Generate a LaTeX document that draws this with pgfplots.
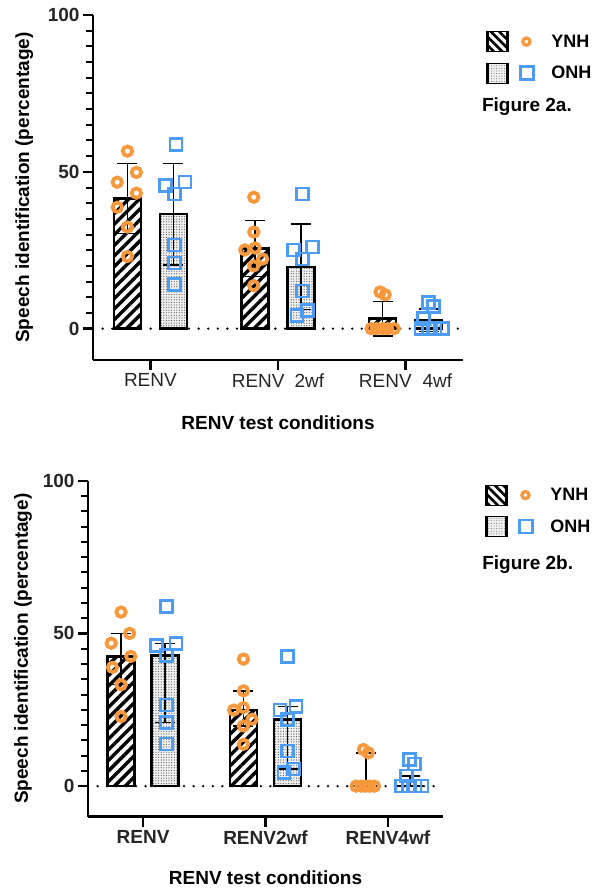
\documentclass[border=0pt]{standalone}
\usepackage{fontspec}
\setmainfont{Liberation Sans}
\usepackage{pgfplots}
\pgfplotsset{compat=1.18}
\usetikzlibrary{patterns,patterns.meta}
\definecolor{ynh}{HTML}{F7983C}
\definecolor{onh}{HTML}{4A9CF5}
\definecolor{tickgray}{HTML}{262626}
\newcommand{\lbl}{\fontsize{19}{22}\selectfont}
\newcommand{\leg}{\fontsize{18}{21}\selectfont}

\pgfplotsset{
 prism/.style={
  scale only axis, clip=false,
  axis x line*=bottom, axis y line*=left,
  axis line style={line width=2.6pt,-},
  ymin=-10, ymax=100, xmin=-0.45, xmax=2.45,
  ytick={0,50,100}, minor y tick num=9,
  xtick={0,1,2},
  tick align=outside,
  major tick length=10pt, minor tick length=7pt,
  tick style={line width=2.4pt,black},
  minor tick style={line width=2pt,black},
  /pgf/number format/assume math mode=true,
  yticklabel style={font=\bfseries\lbl, text=tickgray},
  xlabel style={font=\bfseries\lbl},
  ylabel style={font=\bfseries\lbl},
  legend style={draw=none, fill=none, anchor=north west, font=\bfseries\leg,
    row sep=9pt, nodes={inner sep=1pt}},
  legend cell align=left,
 },
 zeroline/.style={forget plot, black, line width=2.6pt, dash pattern=on 0pt off 9.6pt, line cap=round},
 ynhbar/.style={forget plot, ybar, bar shift=0pt, bar width=27pt, draw=black, line width=2.6pt,
   pattern={Lines[angle=45,distance=7.5pt,line width=3.4pt]}, pattern color=black},
 onhbar/.style={forget plot, ybar, bar shift=0pt, bar width=27pt, draw=black, line width=2.6pt,
   fill=gray!12, postaction={pattern={Dots[distance=2.6pt,radius=0.6pt]}, pattern color=black!65}},
 errs/.style={forget plot, draw=none, mark=none,
   error bars/.cd, y dir=both, y explicit,
   error bar style={draw=black, line width=1.4pt, solid},
   error mark options={draw=black, rotate=90, mark size=10pt, line width=1.4pt}},
 ynhpts/.style={forget plot, only marks, mark=o, mark size=4.7pt, ynh, line width=3.8pt, mark options={line width=3.8pt, solid}},
 onhpts/.style={forget plot, only marks, mark=square, mark size=6pt, onh, line width=2.6pt, mark options={line width=2.6pt, solid}},
 legynh/.style={legend image code/.code={
   \fill[pattern={Lines[angle=-45,distance=6pt,line width=2.6pt]}, pattern color=black] (0pt,-10pt) rectangle (22pt,10pt);
   \draw[black, line width=2.4pt] (1.2pt,-10pt)--(1.2pt,10pt) (20.8pt,-10pt)--(20.8pt,10pt);
   \draw[ynh, line width=3.2pt] (40pt,0pt) circle (3.6pt);
   \path[draw=none, fill=none] (0pt,0pt) rectangle (64pt,0.1pt);}},
 legonh/.style={legend image code/.code={
   \fill[gray!12] (0pt,-10pt) rectangle (22pt,10pt);
   \fill[pattern={Dots[distance=2.6pt,radius=0.5pt]}, pattern color=black!60] (0pt,-10pt) rectangle (22pt,10pt);
   \draw[black, line width=2.4pt] (1.2pt,-10pt)--(1.2pt,10pt) (20.8pt,-10pt)--(20.8pt,10pt);
   \draw[onh, line width=2.4pt] (34pt,-6.5pt) rectangle (47pt,6.5pt);
   \path[draw=none, fill=none] (0pt,0pt) rectangle (64pt,0.1pt);}},
}

\begin{document}
\begin{tikzpicture}
\path[use as bounding box] (0pt,0pt) rectangle (592pt,-890pt);

% ---------------- Figure 2a ----------------
\begin{axis}[prism,
  at={(93pt,-360pt)}, anchor=south west,
  width=370pt, height=345pt,
  xticklabels={RENV, RENV\hspace{10pt}2wf, RENV\hspace{11pt}4wf},
  xticklabel style={font=\lbl, text=tickgray},
  xlabel={RENV test conditions},
  ylabel={Speech identification (percentage)},
  xlabel style={at={(axis description cs:0.5,-0.183)}, anchor=center},
  ylabel style={at={(axis description cs:-0.186,0.5)}, anchor=center},
  legend style={at={(1.051,0.962)}},
]
\addplot[zeroline] coordinates {(-0.45,0) (2.45,0)};
% bars: means
\addplot[ynhbar] coordinates {(-0.18,41.5) (0.82,25.6) (1.82,3.2)};
\addplot[onhbar] coordinates {(0.18,36.5) (1.18,19.7) (2.18,2.6)};
% error bars: SD
\addplot[errs] coordinates {
  (-0.18,41.5) +- (0,11.2)
  (0.82,25.6) +- (0,8.9)
  (1.82,3.2) +- (0,5.5)
  (0.18,36.5) +- (0,16.2)
  (1.18,19.7) +- (0,13.6)
  (2.18,2.6) +- (0,3.6)};
% individual points
\addplot[ynhpts] coordinates {
  (-0.18,56.6) (-0.11,49.8) (-0.26,46.7) (-0.11,43.2) (-0.26,38.7) (-0.18,32.4) (-0.18,23.0)
  (0.81,41.9) (0.81,30.8) (0.74,25.1) (0.82,25.7) (0.88,22.2) (0.81,20.0) (0.81,13.7)
  (1.80,11.7) (1.84,10.8) (1.73,0) (1.77,0) (1.82,0) (1.86,0) (1.91,0)};
\addplot[onhpts] coordinates {
  (0.20,58.7) (0.12,45.7) (0.27,46.7) (0.19,42.9) (0.19,26.7) (0.19,20.9) (0.19,14.0)
  (1.19,42.9) (1.12,25.1) (1.27,26.0) (1.19,22.2) (1.19,12.0) (1.15,4.1) (1.23,5.7)
  (2.18,8.3) (2.22,7.0) (2.14,3.2) (2.12,0) (2.18,0) (2.23,0) (2.29,0)};
\addlegendimage{legynh}\addlegendentry{YNH}
\addlegendimage{legonh}\addlegendentry{ONH}
\node[anchor=west, font=\bfseries\lbl, inner sep=0pt] at (axis description cs:1.051,0.733) {Figure 2a.};
\end{axis}

% ---------------- Figure 2b ----------------
\begin{axis}[prism,
  at={(88pt,-816.7pt)}, anchor=south west,
  width=355pt, height=336pt,
  xticklabels={RENV, RENV2wf, RENV4wf},
  xticklabel style={font=\bfseries\lbl, text=tickgray},
  xlabel={RENV test conditions},
  ylabel={Speech identification (percentage)},
  xlabel style={at={(axis description cs:0.5,-0.182)}, anchor=center},
  ylabel style={at={(axis description cs:-0.183,0.5)}, anchor=center},
  legend style={at={(1.11,0.997)}},
]
\addplot[zeroline] coordinates {(-0.45,0) (2.45,0)};
% bars: medians
\addplot[ynhbar] coordinates {(-0.18,42.5) (0.82,24.9) (1.82,0)};
\addplot[onhbar] coordinates {(0.18,42.7) (1.18,21.9) (2.18,0)};
% error bars: interquartile range
\addplot[errs] coordinates {
  (-0.18,42.5) += (0,7.5) -= (0,9.3)
  (0.82,24.9) += (0,6.3) -= (0,5.2)
  (1.82,0) += (0,10.9) -= (0,0)
  (0.18,42.7) += (0,4.1) -= (0,21.9)
  (1.18,21.9) += (0,4.1) -= (0,16.3)
  (2.18,0) += (0,3.3) -= (0,0)};
\addplot[ynhpts] coordinates {
  (-0.18,57.0) (-0.11,50.0) (-0.26,46.8) (-0.10,42.5) (-0.25,38.9) (-0.18,33.2) (-0.18,22.8)
  (0.82,41.6) (0.82,31.2) (0.74,24.9) (0.82,25.7) (0.89,21.9) (0.82,19.7) (0.82,13.7)
  (1.80,12.0) (1.84,10.9) (1.74,0) (1.78,0) (1.815,0) (1.85,0) (1.89,0)};
\addplot[onhpts] coordinates {
  (0.19,58.9) (0.11,46.0) (0.27,46.8) (0.19,42.7) (0.19,26.6) (0.19,20.8) (0.19,13.8)
  (1.18,42.5) (1.12,24.9) (1.25,26.0) (1.18,21.9) (1.18,11.5) (1.15,4.4) (1.23,5.6)
  (2.175,8.8) (2.215,7.2) (2.15,3.3) (2.11,0) (2.17,0) (2.22,0) (2.28,0)};
\addlegendimage{legynh}\addlegendentry{YNH}
\addlegendimage{legonh}\addlegendentry{ONH}
\node[anchor=west, font=\bfseries\lbl, inner sep=0pt] at (axis description cs:1.11,0.749) {Figure 2b.};
\end{axis}
\end{tikzpicture}
\end{document}
